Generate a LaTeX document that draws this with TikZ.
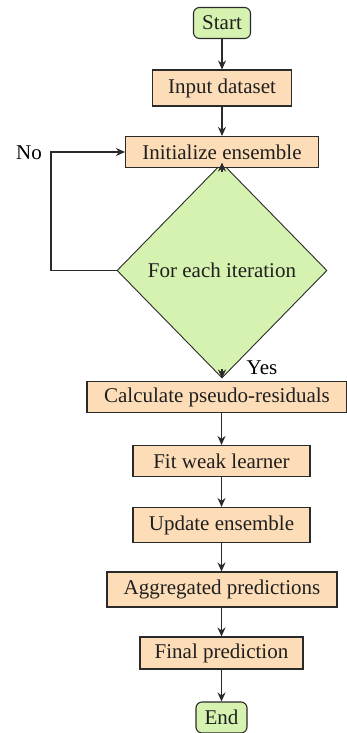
\documentclass[tikz,border=0pt]{standalone}
\usepackage{fontspec}
\setmainfont{Liberation Serif}
\usetikzlibrary{shapes.geometric,arrows.meta}
\definecolor{boxfill}{HTML}{FDDDB8}
\definecolor{greenfill}{HTML}{D6F2B0}
\definecolor{edge}{HTML}{2A2A2A}
\begin{document}
\begin{tikzpicture}[x=1pt,y=-1pt,
  font=\fontsize{21}{25}\selectfont,
  proc/.style={draw=edge,line width=1.1pt,fill=boxfill,rectangle,inner sep=0pt,text=black!88},
  term/.style={draw=edge,line width=1.1pt,fill=greenfill,rectangle,rounded corners=6pt,inner sep=0pt,text=black!88},
  dec/.style={draw=edge,line width=0.9pt,fill=greenfill,diamond,inner sep=0pt,minimum width=210pt,minimum height=215pt,text=black!88},
  arr/.style={draw=edge,line width=1.1pt,-{Stealth[length=9pt,width=8pt]}}]
\useasboundingbox (0,0) rectangle (347,733);
\node[term,minimum width=57pt,minimum height=31pt] (start) at (222,23) {Start};
\node[proc,minimum width=139pt,minimum height=36pt] (input) at (222,88) {Input dataset};
\node[dec] (dia) at (222,270.5) {For each iteration};
\node[proc,minimum width=193pt,minimum height=31pt] (init) at (222,152) {Initialize ensemble};
\node[proc,minimum width=260pt,minimum height=31pt] (calc) at (217,397) {Calculate pseudo-residuals};
\node[proc,minimum width=177pt,minimum height=31pt] (fit) at (221.5,461) {Fit weak learner};
\node[proc,minimum width=177pt,minimum height=35pt] (upd) at (221.5,525) {Update ensemble};
\node[proc,minimum width=230pt,minimum height=35pt] (agg) at (222,589.5) {Aggregated predictions};
\node[proc,minimum width=163pt,minimum height=32pt] (fin) at (221.5,653) {Final prediction};
\node[term,minimum width=51pt,minimum height=31pt] (end) at (221.5,717.5) {End};
\coordinate (lb) at (51,270.5);
\node (no) at (29,153) {No};
\node (yes) at (262,368) {Yes};
\draw[arr] (start) -- (input);
\draw[arr] (input) -- (init);
\draw[arr] ([yshift=-9pt]dia.north) -- (dia.north);
\draw[arr] (dia.west) -- (lb) |- (init.west);
\draw[arr] ([yshift=9pt]dia.south) -- (dia.south);
\draw[arr] (calc.south -| fit.north) -- (fit.north);
\draw[arr] (fit) -- (upd);
\draw[arr] (upd.south) -- (upd.south |- agg.north);
\draw[arr] (upd.south |- agg.south) -- (fin.north);
\draw[arr] (fin) -- (end);
\end{tikzpicture}
\end{document}
